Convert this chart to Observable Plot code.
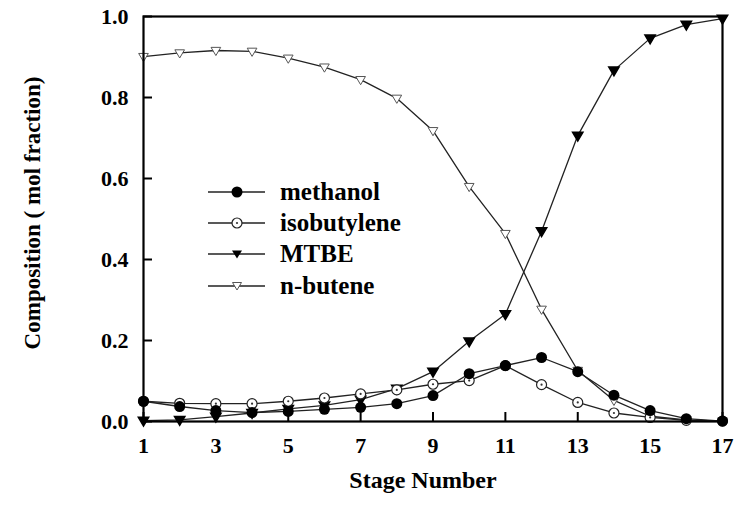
<!DOCTYPE html>
<html>
<head>
<meta charset="utf-8">
<script src="https://cdn.jsdelivr.net/npm/d3@7"></script>
<script src="https://cdn.jsdelivr.net/npm/@observablehq/plot@0.6"></script>
<style>
  html, body { margin: 0; padding: 0; background: #fff; }
  #wrap { position: relative; width: 737px; height: 508px; }
  #legend { position: absolute; left: 207px; top: 176px; font-family: "Liberation Serif", "DejaVu Serif", serif; font-weight: bold; font-size: 25px; color: #000; }
  #legend .row { display: flex; align-items: center; height: 31.3px; }
  #legend svg { margin-right: 14px; }
</style>
</head>
<body>
<div id="wrap"><div id="legend"></div></div>
<script>
const stages = [1,2,3,4,5,6,7,8,9,10,11,12,13,14,15,16,17];
const methanol    = [0.050,0.037,0.027,0.022,0.025,0.030,0.035,0.044,0.064,0.118,0.138,0.158,0.123,0.065,0.027,0.007,0.001];
const isobutylene = [0.050,0.045,0.044,0.044,0.050,0.058,0.068,0.078,0.092,0.101,0.138,0.091,0.047,0.021,0.010,0.003,0.001];
const mtbe        = [0.002,0.004,0.012,0.021,0.031,0.040,0.054,0.081,0.123,0.198,0.265,0.470,0.706,0.867,0.946,0.980,0.995];
const nbutene     = [0.901,0.910,0.916,0.914,0.897,0.875,0.844,0.798,0.718,0.580,0.464,0.277,0.126,0.052,0.013,0.004,0.001];
const seriesNames = ["methanol","isobutylene","MTBE","n-butene"];
const xTicks = [1,3,5,7,9,11,13,15,17];
const yTicks = [0,0.2,0.4,0.6,0.8,1.0];
const xLabel = "Stage Number";
const yLabel = "Composition ( mol fraction)";

const valuesBySeries = [methanol, isobutylene, mtbe, nbutene];
const rows = [];
seriesNames.forEach((s, i) => stages.forEach((st, j) => rows.push({series: s, stage: st, value: valuesBySeries[i][j]})));
const of = s => rows.filter(d => d.series === s);

const triDown = {
  draw(ctx, size) {
    const r = Math.sqrt(size / Math.PI);
    ctx.moveTo(-r * 1.15, -r * 0.75);
    ctx.lineTo(r * 1.15, -r * 0.75);
    ctx.lineTo(0, r * 1.2);
    ctx.closePath();
  }
};

const W = 737, H = 508, mL = 143, mR = 15, mT = 16, mB = 87;
const innerW = W - mL - mR, innerH = H - mT - mB, tickLen = 9;
const xDomain = [1, 17], yDomain = [0, 1];
const xTickSpan = tickLen / innerW * (xDomain[1] - xDomain[0]);
const yTickSpan = tickLen / innerH * (yDomain[1] - yDomain[0]);
const font = '"Liberation Serif", "DejaVu Serif", serif';
const chart = Plot.plot({
  width: W,
  height: H,
  marginLeft: mL,
  marginRight: mR,
  marginTop: mT,
  marginBottom: mB,
  style: {fontFamily: font, fontSize: "22px", fontWeight: "bold", color: "#000", background: "#fff", overflow: "visible"},
  x: {domain: xDomain},
  y: {domain: yDomain},
  marks: [
    Plot.axisX({ticks: xTicks, tickSize: 0, tickPadding: 16, tickFormat: d3.format("d"), label: null}),
    Plot.axisY({ticks: yTicks, tickSize: 0, tickPadding: 15, tickFormat: d3.format(".1f"), label: null}),
    Plot.ruleX(xTicks, {x: d => d, y1: yDomain[0], y2: yDomain[0] + yTickSpan, stroke: "#000", strokeWidth: 2}),
    Plot.ruleY(yTicks, {y: d => d, x1: xDomain[0], x2: xDomain[0] + xTickSpan, stroke: "#000", strokeWidth: 2}),
    Plot.line(rows, {x: "stage", y: "value", z: "series", stroke: "#222", strokeWidth: 1.3}),
    Plot.dot(of("n-butene"), {x: "stage", y: "value", r: 4.2, symbol: triDown, fill: "#fff", stroke: "#555", strokeWidth: 1}),
    Plot.dot(of("MTBE"), {x: "stage", y: "value", r: 4.5, symbol: triDown, fill: "#000", stroke: "#000"}),
    Plot.dot(of("isobutylene"), {x: "stage", y: "value", r: 5, fill: "#fff", stroke: "#222", strokeWidth: 1.2}),
    Plot.dot(of("isobutylene"), {x: "stage", y: "value", r: 1.1, fill: "#333"}),
    Plot.dot(of("methanol"), {x: "stage", y: "value", r: 5.5, fill: "#000"}),
    Plot.frame({stroke: "#000", strokeWidth: 2.2}),
    Plot.text([xLabel], {frameAnchor: "bottom", dx: -10, dy: 66, text: d => d, fontSize: 24, fontWeight: "bold", fill: "#000"}),
    Plot.text([yLabel], {frameAnchor: "left", textAnchor: "middle", dx: -111, dy: -6, rotate: -90, text: d => d, fontSize: 23, fontWeight: "bold", fill: "#000"})
  ]
});
document.getElementById("wrap").prepend(chart);

// legend
const legend = document.getElementById("legend");
const glyphs = {
  "methanol": '<circle cx="30" cy="8" r="5.5" fill="#000"/>',
  "isobutylene": '<circle cx="30" cy="8" r="5" fill="#fff" stroke="#222" stroke-width="1.2"/><circle cx="30" cy="8" r="1.1" fill="#333"/>',
  "MTBE": '<path d="M25,4.5 L35,4.5 L30,12.5 Z" fill="#000"/>',
  "n-butene": '<path d="M25.5,4.5 L34.5,4.5 L30,12 Z" fill="#fff" stroke="#555" stroke-width="1"/>'
};
seriesNames.forEach(s => {
  const row = document.createElement("div");
  row.className = "row";
  row.innerHTML = '<svg width="59" height="16"><line x1="1" y1="8" x2="58" y2="8" stroke="#222" stroke-width="1.4"/>' + glyphs[s] + '</svg><span>' + s + '</span>';
  legend.appendChild(row);
});
</script>
</body>
</html>
